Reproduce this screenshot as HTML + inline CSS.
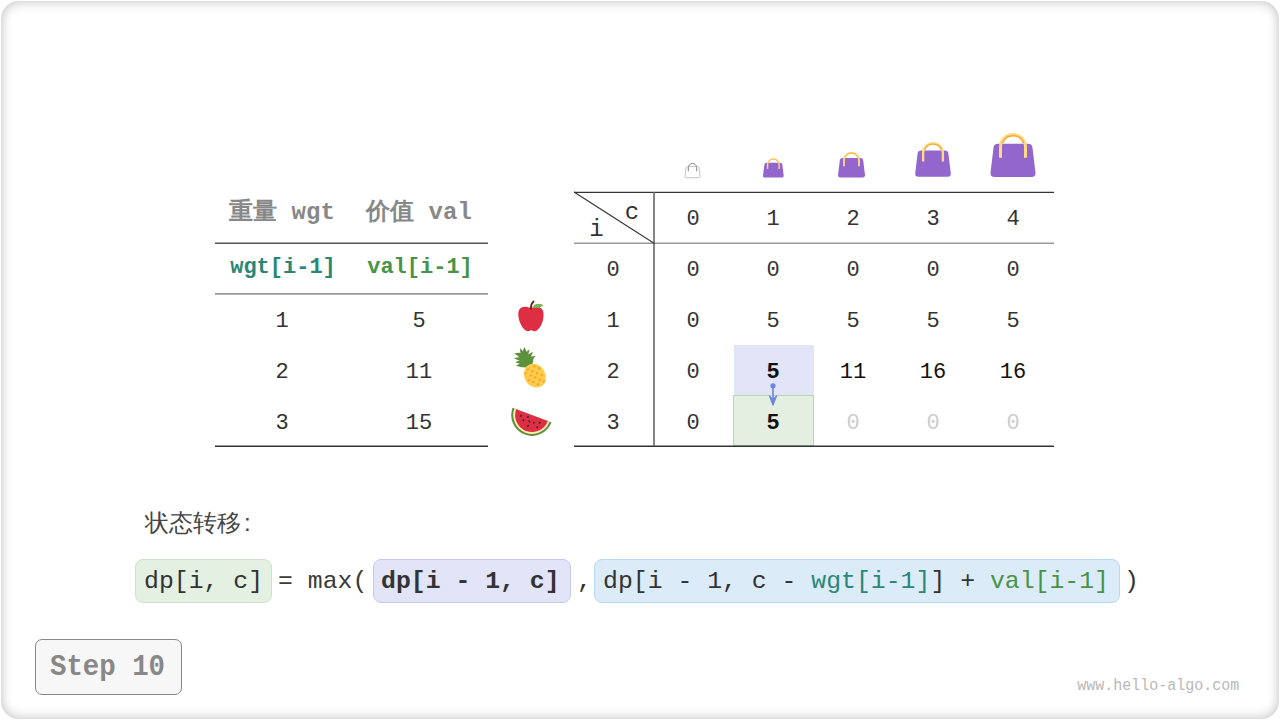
<!DOCTYPE html>
<html><head><meta charset="utf-8">
<style>
html,body{margin:0;padding:0;background:#fff;}
body{width:1280px;height:720px;position:relative;overflow:hidden;font-family:"Liberation Mono",monospace;}
.card{position:absolute;left:1px;top:1px;width:1278px;height:717.6px;border-radius:18px;background:#fff;box-shadow:inset 0 0 12px rgba(0,0,0,0.27);}
.t{position:absolute;white-space:pre;line-height:1;}
.c{position:absolute;white-space:pre;line-height:1;transform:translateX(-50%);}
.hl{position:absolute;}
.ln{position:absolute;}
.num{font-size:22px;color:#333;}
</style></head>
<body>
<div class="card"></div>

<!-- left table -->

<div class="c" style="left:282px;top:201px;font-size:24px;font-weight:bold;color:#888;">重量 wgt</div>
<div class="c" style="left:419px;top:201px;font-size:24px;font-weight:bold;color:#888;">价值 val</div>
<div class="c" style="left:283px;top:257px;font-size:22px;font-weight:bold;color:#2a8775;">wgt[i-1]</div>
<div class="c" style="left:420px;top:257px;font-size:22px;font-weight:bold;color:#479448;">val[i-1]</div>
<div class="c num" style="left:282px;top:311px;">1</div>
<div class="c num" style="left:419px;top:311px;">5</div>
<div class="c num" style="left:282px;top:362px;">2</div>
<div class="c num" style="left:419px;top:362px;">11</div>
<div class="c num" style="left:282px;top:413px;">3</div>
<div class="c num" style="left:419px;top:413px;">15</div>

<!-- right table -->
<div class="hl" style="left:734px;top:345px;width:80px;height:50px;background:#e1e5f7;"></div>
<div class="hl" style="left:733px;top:395px;width:79px;height:49px;background:#e4efe2;border:1px solid #b8dab2;"></div>

<svg style="position:absolute;left:0;top:0" width="1280" height="720">
<line x1="215" y1="243.2" x2="488" y2="243.2" stroke="#555" stroke-width="1.5"/>
<line x1="215" y1="293.9" x2="488" y2="293.9" stroke="#9a9a9a" stroke-width="1.6"/>
<line x1="215" y1="446.2" x2="488" y2="446.2" stroke="#333" stroke-width="1.4"/>
<line x1="574" y1="192.4" x2="1054" y2="192.4" stroke="#333" stroke-width="1.3"/>
<line x1="574" y1="243.3" x2="1054" y2="243.3" stroke="#9a9a9a" stroke-width="1.6"/>
<line x1="574" y1="446.2" x2="1054" y2="446.2" stroke="#333" stroke-width="1.4"/>
<line x1="654" y1="192" x2="654" y2="446" stroke="#666" stroke-width="1.6"/>
<line x1="574" y1="192" x2="654" y2="243.3" stroke="#333" stroke-width="1.1"/>
</svg>
<div class="t num" style="left:624.7px;top:200.7px;font-size:24px;">c</div>
<div class="t num" style="left:589.3px;top:218px;font-size:24px;">i</div>

<div class="c num" style="left:693px;top:209px;">0</div>
<div class="c num" style="left:773px;top:209px;">1</div>
<div class="c num" style="left:853px;top:209px;">2</div>
<div class="c num" style="left:933px;top:209px;">3</div>
<div class="c num" style="left:1013px;top:209px;">4</div>

<div class="c num" style="left:613px;top:260px;">0</div>
<div class="c num" style="left:693px;top:260px;">0</div>
<div class="c num" style="left:773px;top:260px;">0</div>
<div class="c num" style="left:853px;top:260px;">0</div>
<div class="c num" style="left:933px;top:260px;">0</div>
<div class="c num" style="left:1013px;top:260px;">0</div>

<div class="c num" style="left:613px;top:311px;">1</div>
<div class="c num" style="left:693px;top:311px;">0</div>
<div class="c num" style="left:773px;top:311px;">5</div>
<div class="c num" style="left:853px;top:311px;">5</div>
<div class="c num" style="left:933px;top:311px;">5</div>
<div class="c num" style="left:1013px;top:311px;">5</div>

<div class="c num" style="left:613px;top:362px;">2</div>
<div class="c num" style="left:693px;top:362px;">0</div>
<div class="c num" style="left:773px;top:362px;font-weight:bold;color:#111;">5</div>
<div class="c num" style="left:853px;top:362px;color:#111;">11</div>
<div class="c num" style="left:933px;top:362px;color:#111;">16</div>
<div class="c num" style="left:1013px;top:362px;color:#111;">16</div>

<div class="c num" style="left:613px;top:413px;">3</div>
<div class="c num" style="left:693px;top:413px;">0</div>
<div class="c num" style="left:773px;top:413px;font-weight:bold;color:#111;">5</div>
<div class="c num" style="left:853px;top:413px;color:#ccc;">0</div>
<div class="c num" style="left:933px;top:413px;color:#ccc;">0</div>
<div class="c num" style="left:1013px;top:413px;color:#ccc;">0</div>


<!-- bags -->
<svg style="position:absolute;left:0;top:0;overflow:visible" width="1280" height="720">

<g transform="translate(685,163) scale(0.3333)"><path d="M7.5 10.75H37.5Q41.6 10.75 42 14.8L45 39.8Q45.2 44 41 44H4Q-0.2 44 0 39.8L3 14.8Q3.4 10.75 7.5 10.75Z" fill="none" stroke="#bbb" stroke-width="2.6"/>
<path d="M10 24.8V14A12.5 12.5 0 0 1 35 14V24.8" fill="none" stroke="#888" stroke-width="3"/></g>
<g transform="translate(763,158) scale(0.46,0.444)"><path d="M7.5 10.75H37.5Q41.6 10.75 42 14.8L45 39.8Q45.2 44 41 44H4Q-0.2 44 0 39.8L3 14.8Q3.4 10.75 7.5 10.75Z" fill="#9266cc"/>
<path d="M10 24.8V14A12.5 12.5 0 0 1 35 14V24.8" fill="none" stroke="#ffd983" stroke-width="3"/>
<path d="M11.88 10.14A11.3 11.3 0 0 1 33.12 10.14" fill="none" stroke="#f6a833" stroke-width="1.5"/></g>
<g transform="translate(838,151.7) scale(0.6,0.5867)"><path d="M7.5 10.75H37.5Q41.6 10.75 42 14.8L45 39.8Q45.2 44 41 44H4Q-0.2 44 0 39.8L3 14.8Q3.4 10.75 7.5 10.75Z" fill="#9266cc"/>
<path d="M10 24.8V14A12.5 12.5 0 0 1 35 14V24.8" fill="none" stroke="#ffd983" stroke-width="3"/>
<path d="M11.88 10.14A11.3 11.3 0 0 1 33.12 10.14" fill="none" stroke="#f6a833" stroke-width="1.5"/></g>
<g transform="translate(915.2,142) scale(0.7911)"><path d="M7.5 10.75H37.5Q41.6 10.75 42 14.8L45 39.8Q45.2 44 41 44H4Q-0.2 44 0 39.8L3 14.8Q3.4 10.75 7.5 10.75Z" fill="#9266cc"/>
<path d="M10 24.8V14A12.5 12.5 0 0 1 35 14V24.8" fill="none" stroke="#ffd983" stroke-width="3"/>
<path d="M11.88 10.14A11.3 11.3 0 0 1 33.12 10.14" fill="none" stroke="#f6a833" stroke-width="1.5"/></g>
<g transform="translate(990.5,133) scale(1)"><path d="M7.5 10.75H37.5Q41.6 10.75 42 14.8L45 39.8Q45.2 44 41 44H4Q-0.2 44 0 39.8L3 14.8Q3.4 10.75 7.5 10.75Z" fill="#9266cc"/>
<path d="M10 24.8V14A12.5 12.5 0 0 1 35 14V24.8" fill="none" stroke="#ffd983" stroke-width="3"/>
<path d="M11.88 10.14A11.3 11.3 0 0 1 33.12 10.14" fill="none" stroke="#f6a833" stroke-width="1.5"/></g>

<!-- apple -->
<g transform="translate(505,295)">
<path d="M25.9 13.3C23 11.5 19 11.2 16.5 12.5C13.5 14 13 18 13.4 21C14 27 17 33 21 35.8C23 36.5 25 36 26.3 35C27.5 36 29.5 36.5 31.5 35.8C35.5 33 38.3 27 38.5 21C38.8 17 38 14 35 12.5C32.5 11.2 28.5 11.5 25.9 13.3Z" fill="#dd2e44"/>
<path d="M27.3 12.6C29 8.6 33 7.5 38.3 9.9C36 12.6 31 13.6 27.3 12.6Z" fill="#77b255"/>
<path d="M25.9 13.6C25.9 10.5 26.8 8 28.6 6.4" fill="none" stroke="#662113" stroke-width="1.9" stroke-linecap="round"/>
</g>

<!-- pineapple -->
<g transform="translate(505,340)">
<path d="M20.4 27.6Q15 27 11 25.7Q13.5 24 14.8 23.7Q12 23 10.4 22.2Q13 20.8 14.8 20.6Q11.5 19.6 9 18.5Q12 17.2 14.6 17.4Q12 15 9.3 13.4Q13 12.6 15.5 13Q15 10.5 15 8.15Q16.8 9.5 17.8 11.2Q18.4 9 19.5 7.1Q20.8 9.5 21.4 11.8Q23 10.2 24.7 9.4Q23.8 12 23.3 14.5Q25.5 12.8 28 12.1Q26.8 14.5 26.1 16.6Q28.5 16 30.7 16.1Q29 17.5 28.3 19.2Q27.8 21.5 27.8 23.5Z" fill="#5c913b"/>
<ellipse cx="29.9" cy="35.7" rx="10.4" ry="12.4" transform="rotate(-32 29.9 35.7)" fill="#ffcc4d"/>
<g fill="#f4900c" opacity="0.62">
<circle cx="29.4" cy="26.6" r="1.25"/><circle cx="34" cy="28.6" r="1.25"/><circle cx="22.9" cy="29.4" r="1.25"/><circle cx="27.5" cy="31.2" r="1.25"/>
<circle cx="32.1" cy="33.2" r="1.25"/><circle cx="36.7" cy="35.1" r="1.25"/><circle cx="20.6" cy="33.6" r="1.25"/><circle cx="25.6" cy="35.5" r="1.25"/>
<circle cx="30.2" cy="37.6" r="1.25"/><circle cx="34.8" cy="39.7" r="1.25"/><circle cx="39" cy="41.6" r="1.25"/><circle cx="23.7" cy="40.1" r="1.25"/>
<circle cx="28.3" cy="42" r="1.25"/><circle cx="32.8" cy="44.2" r="1.25"/>
</g>
</g>

<!-- watermelon -->
<g transform="translate(505,395)">
<g transform="rotate(20.6 27 20.1)">
<path d="M6.2 20.1A20.8 20.8 0 0 0 47.8 20.1Z" fill="#5c913b"/>
<path d="M8.2 20.1A18.8 18.8 0 0 0 45.8 20.1Z" fill="#ffe8b6"/>
<path d="M10.1 20.1A16.9 16.9 0 0 0 43.9 20.1Z" fill="#dd2e44"/>
</g>
<g fill="#292f33">
<ellipse cx="16" cy="20.8" rx="0.85" ry="1.3" transform="rotate(40 16 20.8)"/>
<ellipse cx="22.9" cy="21.9" rx="0.85" ry="1.3" transform="rotate(40 22.9 21.9)"/>
<ellipse cx="18.4" cy="25.3" rx="0.85" ry="1.3" transform="rotate(-10 18.4 25.3)"/>
<ellipse cx="24.3" cy="26.4" rx="0.85" ry="1.3" transform="rotate(-30 24.3 26.4)"/>
<ellipse cx="28.8" cy="27.8" rx="0.9" ry="1.1"/>
<ellipse cx="34.7" cy="27.8" rx="0.85" ry="1.3" transform="rotate(40 34.7 27.8)"/>
<ellipse cx="22.9" cy="30.9" rx="0.85" ry="1.3" transform="rotate(40 22.9 30.9)"/>
<ellipse cx="32.3" cy="32.3" rx="0.85" ry="1.3" transform="rotate(-10 32.3 32.3)"/>
</g>
</g>

<!-- arrow -->
<circle cx="773" cy="385.8" r="2.6" fill="#6b86dc"/>
<line x1="773" y1="386" x2="773" y2="401" stroke="#6b86dc" stroke-width="1.6"/>
<path d="M769.2 395.6L773 405.4L776.8 395.6L773 399.2Z" fill="#6b86dc" stroke="#6b86dc" stroke-width="1" stroke-linejoin="round"/>
</svg>

<!-- formula -->
<div class="t" style="left:145px;top:510.5px;font-family:'Liberation Sans',sans-serif;font-size:24px;color:#444;">状态转移<span style="margin-left:3px">:</span></div>

<div class="hl" style="left:135px;top:559px;width:135px;height:42px;border-radius:8px;background:#e4f0e2;border:1px solid #cbe3c6;"></div>
<div class="hl" style="left:373px;top:559px;width:196px;height:42px;border-radius:8px;background:#e2e5f8;border:1px solid #c5c9ef;"></div>
<div class="hl" style="left:594px;top:559px;width:524px;height:42px;border-radius:8px;background:#dcebf8;border:1px solid #b6d8f2;"></div>

<div class="t" style="left:144px;top:569px;font-size:24.8px;color:#333;">dp[i, c]</div>
<div class="t" style="left:278px;top:569px;font-size:24.8px;color:#3a3a3a;">= max(</div>
<div class="t" style="left:381px;top:569px;font-size:24.8px;color:#333;font-weight:bold;">dp[i - 1, c]</div>
<div class="t" style="left:577px;top:569px;font-size:24.8px;color:#333;">,</div>
<div class="t" style="left:603px;top:569px;font-size:24.8px;color:#333;">dp[i - 1, c - <span style="color:#2a8775">wgt[i-1]</span>] + <span style="color:#479448">val[i-1]</span></div>
<div class="t" style="left:1124px;top:569px;font-size:24.8px;color:#333;">)</div>

<!-- step -->
<div class="hl" style="left:35.3px;top:639px;width:146.8px;height:56px;border-radius:7px;background:#f7f7f7;border:1px solid #888;box-sizing:border-box;"></div>
<div class="t" style="left:50px;top:652.3px;font-size:27.4px;font-weight:bold;color:#888;transform:scaleY(1.08);transform-origin:0 0;">Step 10</div>

<div class="t" style="left:1077.3px;top:677.6px;font-size:15px;color:#b8b8b8;transform:scaleY(1.1);transform-origin:0 0;">www.hello-algo.com</div>

</body></html>
